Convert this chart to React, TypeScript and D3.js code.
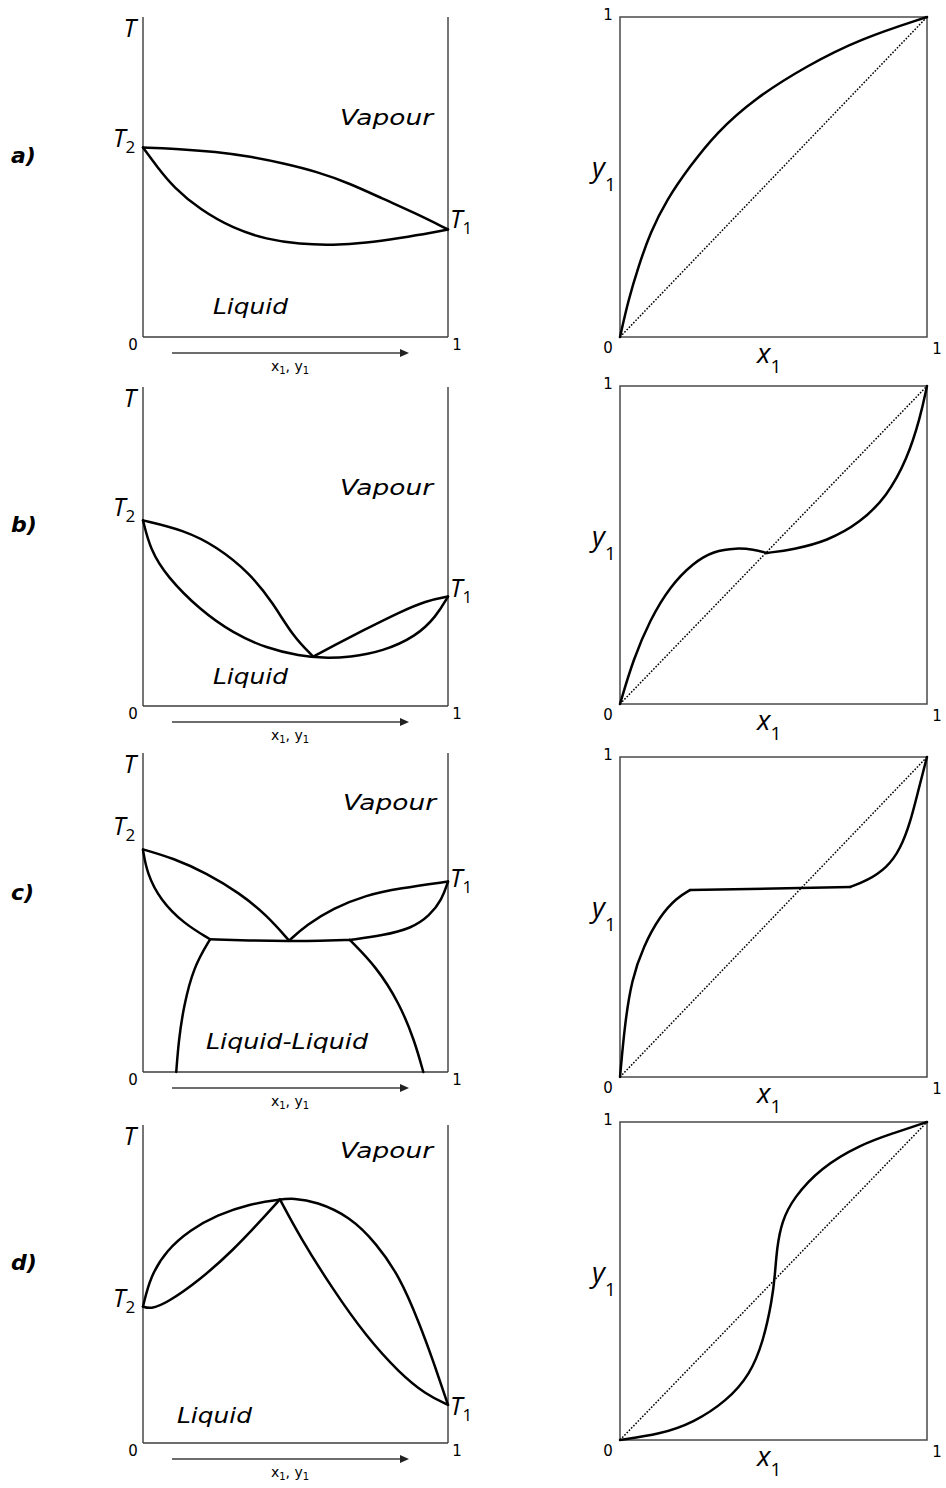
import React from "react";
import * as d3 from "d3";

type Pt = [number, number];

// ---------- Phase-boundary data (x1 on [0,1], T normalised on [0,1]) ----------

// a) ideal-like system
const aDew: Pt[] = [
  [0, 0.592], [0.1, 0.589], [0.242, 0.579], [0.351, 0.564], [0.46, 0.543],
  [0.569, 0.517], [0.678, 0.48], [0.786, 0.432], [0.895, 0.386], [1, 0.336],
];
const aBubble: Pt[] = [
  [0, 0.592], [0.046, 0.532], [0.1, 0.468], [0.187, 0.398], [0.296, 0.339],
  [0.405, 0.305], [0.514, 0.29], [0.623, 0.287], [0.732, 0.294], [0.841, 0.309],
  [0.95, 0.326], [1, 0.336],
];
const aXY: Pt[] = [
  [0, 0], [0.027, 0.115], [0.06, 0.22], [0.098, 0.325], [0.152, 0.429],
  [0.228, 0.534], [0.315, 0.639], [0.435, 0.743], [0.609, 0.848], [0.783, 0.932], [1, 1],
];

// b) minimum-boiling azeotrope
const bDewLeft: Pt[] = [
  [0, 0.582], [0.133, 0.552], [0.242, 0.5], [0.351, 0.416], [0.427, 0.322],
  [0.492, 0.218], [0.558, 0.155],
];
const bDewRight: Pt[] = [
  [0.558, 0.155], [0.623, 0.188], [0.732, 0.242], [0.841, 0.294], [0.928, 0.33], [1, 0.343],
];
const bBubble: Pt[] = [
  [0, 0.582], [0.024, 0.49], [0.078, 0.406], [0.187, 0.301], [0.296, 0.228],
  [0.405, 0.181], [0.514, 0.157], [0.59, 0.15], [0.678, 0.153], [0.786, 0.171],
  [0.895, 0.218], [0.961, 0.28], [1, 0.343],
];
const bXYLeft: Pt[] = [
  [0, 0], [0.043, 0.14], [0.098, 0.265], [0.163, 0.37], [0.239, 0.444],
  [0.304, 0.481], [0.38, 0.491], [0.435, 0.486], [0.478, 0.475],
];
const bXYRight: Pt[] = [
  [0.478, 0.475], [0.565, 0.486], [0.674, 0.512], [0.783, 0.57], [0.87, 0.654],
  [0.935, 0.769], [0.978, 0.9], [1, 1],
];

// c) heterogeneous azeotrope with liquid-liquid split
const cDewLeft: Pt[] = [
  [0, 0.698], [0.1, 0.67], [0.209, 0.623], [0.318, 0.56], [0.405, 0.492], [0.479, 0.412],
];
const cDewRight: Pt[] = [
  [0.479, 0.412], [0.536, 0.461], [0.623, 0.513], [0.732, 0.555], [0.841, 0.576], [1, 0.597],
];
const cBubbleLeft: Pt[] = [
  [0, 0.696], [0.013, 0.623], [0.057, 0.539], [0.133, 0.466], [0.22, 0.416],
];
const cThreePhase: Pt[] = [
  [0.22, 0.416], [0.351, 0.412], [0.479, 0.41], [0.58, 0.411], [0.678, 0.414],
];
const cBubbleRight: Pt[] = [
  [0.678, 0.414], [0.786, 0.428], [0.88, 0.45], [0.94, 0.49], [0.98, 0.54], [1, 0.597],
];
const cLLELeft: Pt[] = [
  [0.22, 0.416], [0.166, 0.33], [0.133, 0.204], [0.117, 0.099], [0.109, 0],
];
const cLLERight: Pt[] = [
  [0.678, 0.414], [0.765, 0.33], [0.841, 0.215], [0.89, 0.099], [0.919, 0],
];
const cXYLeft: Pt[] = [
  [0, 0], [0.016, 0.168], [0.038, 0.304], [0.076, 0.408], [0.13, 0.503],
  [0.185, 0.56], [0.228, 0.584],
];
const cXYPlateau: Pt[] = [[0.228, 0.584], [0.75, 0.594]];
const cXYRight: Pt[] = [
  [0.75, 0.594], [0.804, 0.613], [0.87, 0.654], [0.913, 0.712], [0.946, 0.796],
  [0.973, 0.901], [1, 1],
];

// d) maximum-boiling azeotrope
const dOuter: Pt[] = [
  [0, 0.429], [0.024, 0.524], [0.078, 0.607], [0.155, 0.67], [0.242, 0.717],
  [0.351, 0.752], [0.449, 0.766], [0.492, 0.77], [0.569, 0.759], [0.678, 0.712],
  [0.765, 0.628], [0.841, 0.524], [0.906, 0.377], [0.95, 0.262], [1, 0.12],
];
const dInnerLeft: Pt[] = [
  [0, 0.429], [0.024, 0.421], [0.078, 0.44], [0.187, 0.513], [0.296, 0.607],
  [0.383, 0.696], [0.449, 0.766],
];
const dInnerRight: Pt[] = [
  [0.449, 0.766], [0.514, 0.649], [0.623, 0.482], [0.732, 0.335], [0.841, 0.22],
  [0.928, 0.152], [1, 0.12],
];
const dXY: Pt[] = [
  [0, 0], [0.13, 0.018], [0.239, 0.054], [0.348, 0.123], [0.424, 0.206],
  [0.467, 0.311], [0.495, 0.437], [0.505, 0.52], [0.511, 0.604], [0.527, 0.688],
  [0.565, 0.761], [0.652, 0.855], [0.783, 0.929], [0.891, 0.965], [1, 1],
];

const diagonal: Pt[] = [[0, 0], [1, 1]];

// ---------- Labels ----------
const rowLetters = ["a)", "b)", "c)", "d)"];
const vapourLabel = "Vapour";
const liquidLabels = ["Liquid", "Liquid", "Liquid-Liquid", "Liquid"];
const axisTicks = ["0", "1"];

const txCurves: Pt[][][] = [
  [aDew, aBubble],
  [bDewLeft, bDewRight, bBubble],
  [cDewLeft, cDewRight, cBubbleLeft, cThreePhase, cBubbleRight, cLLELeft, cLLERight],
  [dOuter, dInnerLeft, dInnerRight],
];
const xyCurves: Pt[][][] = [
  [aXY],
  [bXYLeft, bXYRight],
  [cXYLeft, cXYPlateau, cXYRight],
  [dXY],
];

// ---------- Layout ----------
const W = 946;
const H = 1488;
const txX: [number, number] = [143, 448];
const xyX: [number, number] = [620, 927];
const txTop = [17, 387, 753, 1125];
const txBottom = [337, 706, 1072, 1443];
const xyTop = [17, 386, 757, 1122];
const xyBottom = [337, 704, 1077, 1440];
const letterBaseline = [163, 532, 900, 1270];
const vapourPos = [
  { x: 340, dy: 108 },
  { x: 340, dy: 108 },
  { x: 343, dy: 57 },
  { x: 340, dy: 33 },
];
const liquidPos = [
  { x: 213, dy: -23, w: 75 },
  { x: 213, dy: -22, w: 75 },
  { x: 206, dy: -23, w: 162 },
  { x: 177, dy: -20, w: 75 },
];
const t2Shift = [-1, -4, -14, 0];
const t1Shift = [-1, 0, 5, 10];

const INK = "#000";
const AXIS = "#3c3c3c";
const SANS = "'DejaVu Sans', Verdana, sans-serif";
const VARFONT = "'Open Sans', 'DejaVu Sans', sans-serif";

// endpoint temperature of the pure component at x1 = 0 or x1 = 1
function pureT(curves: Pt[][], atX: number): number {
  for (const c of curves) {
    for (const p of [c[0], c[c.length - 1]]) {
      if (p[0] === atX) return p[1];
    }
  }
  return 0;
}

function TxPanel({ row }: { row: number }) {
  const top = txTop[row];
  const bottom = txBottom[row];
  const x = d3.scaleLinear().domain([0, 1]).range(txX);
  const y = d3.scaleLinear().domain([0, 1]).range([bottom, top]);
  const line = d3
    .line<Pt>()
    .x((d) => x(d[0]))
    .y((d) => y(d[1]))
    .curve(d3.curveBasis);
  const curves = txCurves[row];
  const t2 = pureT(curves, 0);
  const t1 = pureT(curves, 1);
  const arrowY = bottom + 16;
  const arrowStart = 172;
  const arrowEnd = 409;
  return (
    <g>
      <text x={11} y={letterBaseline[row]} fontFamily={SANS} fontWeight="bold"
        fontStyle="italic" fontSize={22} fill={INK}>{rowLetters[row]}</text>
      {/* axes: two verticals and the composition baseline */}
      <line x1={x(0)} y1={top} x2={x(0)} y2={bottom} stroke={AXIS} strokeWidth={1.4} />
      <line x1={x(1)} y1={top} x2={x(1)} y2={bottom} stroke={AXIS} strokeWidth={1.4} />
      <line x1={x(0)} y1={bottom} x2={x(1)} y2={bottom} stroke={AXIS} strokeWidth={1.4} />
      {curves.map((c, i) => (
        <path key={i} d={line(c) || ""} fill="none" stroke={INK} strokeWidth={2.5}
          strokeLinejoin="round" strokeLinecap="round" />
      ))}
      <text x={136} y={top + 20} fontFamily={VARFONT} fontStyle="italic" fontSize={25}
        textAnchor="end" fill={INK}>T</text>
      <text x={113} y={y(t2) + t2Shift[row]} fontFamily={VARFONT} fontSize={25} fill={INK}>
        <tspan fontStyle="italic">T</tspan>
        <tspan fontSize={17} dy={6}>2</tspan>
      </text>
      <text x={450} y={y(t1) + t1Shift[row]} fontFamily={VARFONT} fontSize={25} fill={INK}>
        <tspan fontStyle="italic">T</tspan>
        <tspan fontSize={17} dy={6}>1</tspan>
      </text>
      <text x={vapourPos[row].x} y={top + vapourPos[row].dy} fontFamily={SANS}
        fontStyle="italic" fontSize={21} textLength={93} lengthAdjust="spacingAndGlyphs"
        fill={INK}>{vapourLabel}</text>
      <text x={liquidPos[row].x} y={bottom + liquidPos[row].dy} fontFamily={SANS}
        fontStyle="italic" fontSize={21} textLength={liquidPos[row].w}
        lengthAdjust="spacingAndGlyphs" fill={INK}>{liquidLabels[row]}</text>
      <text x={133} y={bottom + 13} fontFamily={SANS} fontSize={15} textAnchor="middle"
        fill={INK}>{axisTicks[0]}</text>
      <text x={457} y={bottom + 13} fontFamily={SANS} fontSize={15} textAnchor="middle"
        fill={INK}>{axisTicks[1]}</text>
      <line x1={arrowStart} y1={arrowY} x2={arrowEnd - 7} y2={arrowY} stroke={AXIS}
        strokeWidth={1.3} />
      <path d={`M${arrowEnd},${arrowY} L${arrowEnd - 9},${arrowY - 4} L${arrowEnd - 9},${arrowY + 4} Z`}
        fill="#222" />
      <text x={290} y={bottom + 34} fontFamily={SANS} fontSize={14} textAnchor="middle" fill={INK}>
        x<tspan fontSize={10} dy={3}>1</tspan>
        <tspan dy={-3}>, y</tspan>
        <tspan fontSize={10} dy={3}>1</tspan>
      </text>
    </g>
  );
}

function XyPanel({ row }: { row: number }) {
  const top = xyTop[row];
  const bottom = xyBottom[row];
  const x = d3.scaleLinear().domain([0, 1]).range(xyX);
  const y = d3.scaleLinear().domain([0, 1]).range([bottom, top]);
  const line = d3
    .line<Pt>()
    .x((d) => x(d[0]))
    .y((d) => y(d[1]))
    .curve(d3.curveBasis);
  const straight = d3.line<Pt>().x((d) => x(d[0])).y((d) => y(d[1]));
  return (
    <g>
      <rect x={x(0)} y={y(1)} width={x(1) - x(0)} height={y(0) - y(1)} fill="none"
        stroke="#4a4a4a" strokeWidth={1.5} />
      <path d={straight(diagonal) || ""} fill="none" stroke={INK} strokeWidth={1.5}
        strokeDasharray="1.6,1.6" />
      {xyCurves[row].map((c, i) => (
        <path key={i} d={line(c) || ""} fill="none" stroke={INK} strokeWidth={2.5}
          strokeLinejoin="round" strokeLinecap="round" />
      ))}
      <text x={608} y={top + 3} fontFamily={SANS} fontSize={15} textAnchor="middle"
        fill={INK}>{axisTicks[1]}</text>
      <text x={608} y={bottom + 16} fontFamily={SANS} fontSize={15} textAnchor="middle"
        fill={INK}>{axisTicks[0]}</text>
      <text x={937} y={bottom + 17} fontFamily={SANS} fontSize={15} textAnchor="middle"
        fill={INK}>{axisTicks[1]}</text>
      <text x={592} y={top + 160} fontFamily={VARFONT} fontSize={28} fill={INK}>
        <tspan fontStyle="italic">y</tspan>
        <tspan fontSize={19} dx={0} dy={14}>1</tspan>
      </text>
      <text x={757} y={bottom + 26} fontFamily={VARFONT} fontSize={28} fill={INK}>
        <tspan fontStyle="italic">x</tspan>
        <tspan fontSize={19} dx={0} dy={10}>1</tspan>
      </text>
    </g>
  );
}

export default function App() {
  const rows = [0, 1, 2, 3];
  return (
    <svg width={W} height={H} viewBox={`0 0 ${W} ${H}`}
      style={{ position: "absolute", left: 0, top: 0, background: "#fff" }}>
      <rect x={0} y={0} width={W} height={H} fill="#fff" />
      {rows.map((r) => (
        <g key={r}>
          <TxPanel row={r} />
          <XyPanel row={r} />
        </g>
      ))}
    </svg>
  );
}
